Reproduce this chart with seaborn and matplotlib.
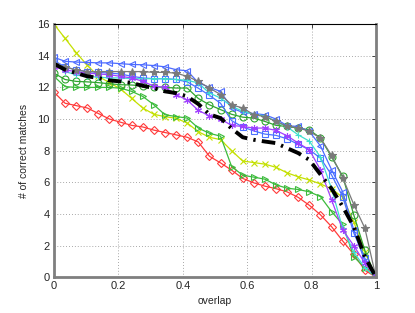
import matplotlib
matplotlib.use("Agg")
import matplotlib.pyplot as plt
import numpy as np
import pandas as pd
import seaborn as sns

# overlap sampled in 30 even steps from 0 to 1
overlap = np.linspace(0, 1, 30)

red_diamond = [11.7, 11.0, 10.85, 10.7, 10.35, 10.0, 9.8, 9.6, 9.5, 9.3,
               9.15, 9.0, 8.85, 8.55, 7.65, 7.23, 6.77, 6.25, 5.97, 5.76,
               5.6, 5.4, 5.05, 4.55, 3.95, 3.2, 2.3, 1.45, 0.45, 0.0]
yellow_x = [16.0, 15.1, 14.2, 13.4, 12.7, 12.3, 11.9, 11.3, 10.7, 10.3,
            10.15, 10.05, 9.75, 9.2, 8.85, 8.7, 8.0, 7.35, 7.25, 7.15,
            6.95, 6.6, 6.35, 6.15, 5.9, 5.6, 5.05, 3.5, 1.6, 0.0]
green_tri = [12.7, 12.05, 12.0, 12.0, 12.0, 12.0, 11.95, 11.75, 11.43, 10.9,
             10.27, 10.16, 10.06, 9.43, 9.1, 8.92, 7.0, 6.45, 6.33, 6.2,
             5.84, 5.63, 5.55, 5.4, 5.1, 4.15, 3.35, 1.3, 0.6, 0.0]
green_circ = [12.9, 12.5, 12.38, 12.35, 12.3, 12.23, 12.17, 12.15, 12.1, 12.05,
              12.0, 11.96, 11.96, 11.3, 10.9, 10.6, 10.3, 10.12, 10.06, 9.85,
              9.6, 9.53, 9.43, 9.32, 8.8, 7.6, 6.4, 3.94, 1.7, 0.0]
blue_tri = [13.9, 13.65, 13.6, 13.58, 13.55, 13.55, 13.5, 13.45, 13.43, 13.38,
            13.3, 13.12, 13.05, 12.3, 12.0, 11.75, 10.7, 10.42, 10.35, 10.27,
            10.0, 9.58, 9.53, 9.22, 8.3, 6.8, 5.4, 3.0, 1.0, 0.0]
blue_square = [13.7, 13.3, 13.1, 13.0, 12.95, 12.9, 12.85, 12.7, 12.6, 12.55,
               12.55, 12.5, 12.35, 11.95, 11.5, 11.0, 9.9, 9.5, 9.25, 9.05,
               8.97, 8.75, 8.4, 8.06, 7.53, 6.47, 5.1, 2.8, 1.2, 0.0]
cyan_plus = [13.5, 13.0, 12.8, 12.7, 12.65, 12.6, 12.6, 12.55, 12.55, 12.55,
             12.55, 12.5, 12.45, 12.28, 11.64, 11.33, 10.8, 10.5, 10.3, 10.2,
             9.85, 9.5, 9.0, 8.6, 7.6, 5.6, 3.1, 1.6, 0.6, 0.0]
purple_star = [13.3, 13.1, 13.0, 12.9, 12.85, 12.8, 12.7, 12.6, 12.38, 12.08,
               12.0, 11.54, 11.2, 10.55, 10.2, 10.0, 9.6, 9.53, 9.43, 9.43,
               9.28, 8.94, 8.48, 8.06, 6.79, 4.89, 3.0, 2.0, 0.9, 0.0]
gray_star = [13.5, 13.3, 13.1, 13.0, 13.0, 13.0, 13.0, 13.0, 13.0, 12.95,
             12.95, 12.9, 12.7, 12.38, 11.96, 11.55, 10.9, 10.7, 10.27, 10.16,
             9.85, 9.55, 9.45, 9.22, 8.8, 7.7, 6.3, 4.6, 3.1, 0.0]
black_mean = [13.5, 13.12, 12.91, 12.7, 12.6, 12.44, 12.38, 12.28, 12.1, 11.96,
              11.75, 11.64, 11.43, 10.95, 10.3, 10.06, 9.4, 8.85, 8.69, 8.58,
              8.48, 8.16, 7.85, 7.42, 6.5, 5.6, 4.47, 3.2, 1.3, 0.0]

# (values, colour, marker, marker size, filled)
SERIES = [
    (red_diamond, "#ff3b3b", "D", 4.0, False),
    (yellow_x, "#c4e000", "x", 4.5, True),
    (green_tri, "#3cbb3c", ">", 5.0, False),
    (green_circ, "#2fa52f", "o", 5.0, False),
    (blue_tri, "#4d6bff", "<", 5.0, False),
    (blue_square, "#4a72ff", "s", 4.2, False),
    (cyan_plus, "#3ee0cf", "+", 5.0, True),
    (purple_star, "#a040ff", (6, 2, 0), 5.0, True),
    (gray_star, "#7a7a7a", "*", 6.0, True),
]

sns.set_style("white")
plt.rcParams["font.family"] = ["Liberation Sans", "DejaVu Sans"]

fig = plt.figure(figsize=(4.15, 3.13), dpi=100)
ax = fig.add_axes([0.13, 0.114, 0.776, 0.809])

for values, color, marker, size, filled in SERIES:
    df = pd.DataFrame({"overlap": overlap, "matches": values})
    sns.lineplot(
        data=df, x="overlap", y="matches", ax=ax, color=color,
        marker=marker, markersize=size,
        markerfacecolor=color if filled else "none",
        markeredgecolor=color, markeredgewidth=0.8,
        linewidth=0.9, sort=False, errorbar=None,
    )

df = pd.DataFrame({"overlap": overlap, "matches": black_mean})
sns.lineplot(
    data=df, x="overlap", y="matches", ax=ax, color="black",
    linewidth=2.8, dashes=False, sort=False, errorbar=None,
)
ax.lines[-1].set_linestyle((0, (3.5, 1.6, 0.6, 1.6)))

ax.set_xlim(0, 1)
ax.set_ylim(0, 16)
ax.set_xticks(np.arange(0, 1.01, 0.2))
ax.set_xticklabels(["0", "0.2", "0.4", "0.6", "0.8", "1"])
ax.set_yticks(np.arange(0, 17, 2))
ax.tick_params(direction="in", length=3, width=0.6, top=True, right=True,
               labelsize=8, pad=3)
ax.grid(True, linestyle=(0, (1, 2.5)), color="#8c8c8c", linewidth=0.6)

ax.spines["top"].set_color("black")
ax.spines["top"].set_linewidth(0.8)
for side in ("left", "right", "bottom"):
    ax.spines[side].set_color("#7f7f7f")
    ax.spines[side].set_linewidth(2.0)

ax.set_xlabel("overlap", fontsize=7.5, labelpad=3)
ax.set_ylabel("# of correct matches", fontsize=7.5, labelpad=6)

fig.savefig("out.png", dpi=100)
